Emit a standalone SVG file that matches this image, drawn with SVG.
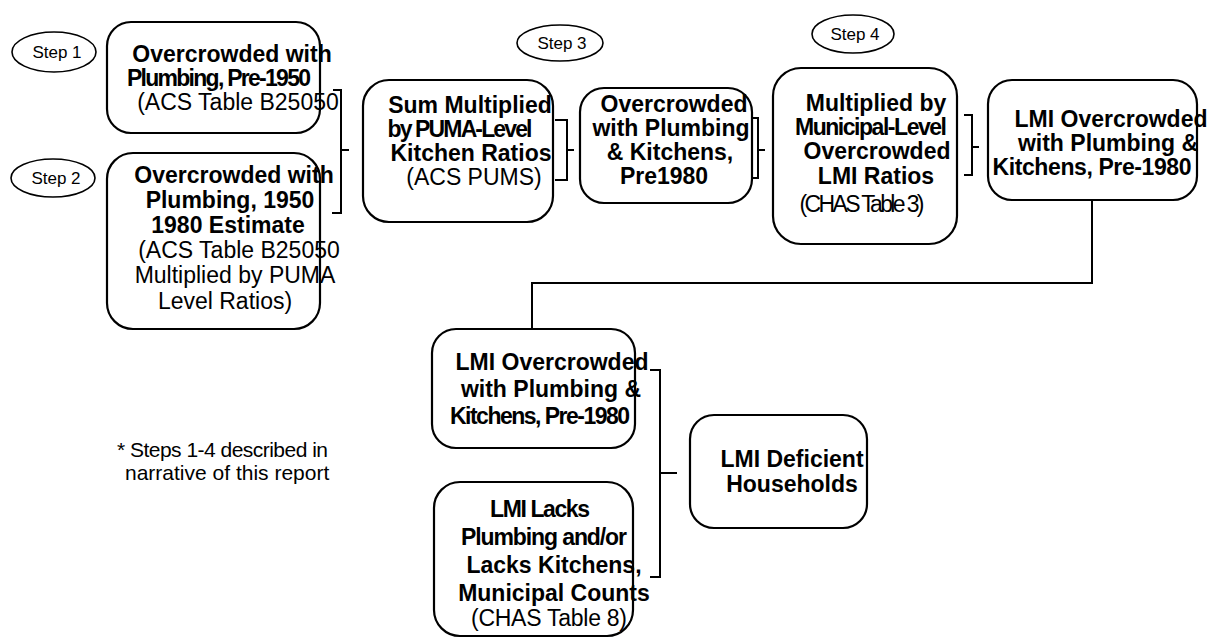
<svg xmlns="http://www.w3.org/2000/svg" width="1220" height="640" viewBox="0 0 1220 640">
<style>
.box{fill:#fff;stroke:#000;stroke-width:2.2}
.oval{fill:#fff;stroke:#000;stroke-width:1.6}
.ln{fill:none;stroke:#000;stroke-width:2}
text{font-family:"Liberation Sans",Arial,sans-serif;fill:#000;text-anchor:middle}
.b{font-weight:bold;font-size:23px}
.r{font-size:23px}
.s{font-size:17px}
.f{font-size:21px;text-anchor:start}
</style>
<rect width="1220" height="640" fill="#fff"/>
<g id="connectors">
<path class="ln" d="M333,90 H341 V213 H332 M341,150 H349"/>
<path class="ln" d="M555,120 H567 V180 H555 M567,150 H574"/>
<path class="ln" d="M750,118 H758 V178 H750 M758,150 H765"/>
<path class="ln" d="M964,115 H972 V175 H964 M972,147 H979"/>
<path class="ln" d="M1092,200 V283 H532 V329"/>
<path class="ln" d="M650,370 H660 V577 H650 M660,473 H677"/>
</g>
<g id="step1"><ellipse class="oval" cx="54" cy="52" rx="42" ry="20"/><text class="s" x="57" y="58">Step 1</text></g>
<g id="step2"><ellipse class="oval" cx="53" cy="178" rx="42" ry="19"/><text class="s" x="56" y="184">Step 2</text></g>
<g id="step3"><ellipse class="oval" cx="560" cy="43" rx="43" ry="18"/><text class="s" x="562" y="49">Step 3</text></g>
<g id="step4"><ellipse class="oval" cx="853" cy="34" rx="41" ry="19"/><text class="s" x="855" y="40">Step 4</text></g>
<g id="box1">
<rect class="box" x="107" y="22" width="213" height="111" rx="24"/>
<text class="b" x="232" y="62">Overcrowded with</text>
<text class="b" x="219" y="86" textLength="184">Plumbing, Pre-1950</text>
<text class="r" x="238" y="110">(ACS Table B25050</text>
</g>
<g id="box2">
<rect class="box" x="107" y="153" width="213" height="176" rx="26"/>
<text class="b" x="234" y="183">Overcrowded with</text>
<text class="b" x="230" y="208">Plumbing, 1950</text>
<text class="b" x="228" y="233">1980 Estimate</text>
<text class="r" x="239" y="258">(ACS Table B25050</text>
<text class="r" x="235" y="283">Multiplied by PUMA</text>
<text class="r" x="225" y="309">Level Ratios)</text>
</g>
<g id="box3">
<rect class="box" x="363" y="80" width="190" height="142" rx="26"/>
<text class="b" x="470" y="113">Sum Multiplied</text>
<text class="b" x="460" y="137" textLength="145">by PUMA-Level</text>
<text class="b" x="471" y="161">Kitchen Ratios</text>
<text class="r" x="474" y="185">(ACS PUMS)</text>
</g>
<g id="box4">
<rect class="box" x="580" y="88" width="172" height="115" rx="24"/>
<text class="b" x="674" y="112">Overcrowded</text>
<text class="b" x="671" y="136">with Plumbing</text>
<text class="b" x="670" y="160">&amp; Kitchens,</text>
<text class="b" x="664" y="184">Pre1980</text>
</g>
<g id="box5">
<rect class="box" x="773" y="68" width="184" height="176" rx="28"/>
<text class="b" x="876" y="111">Multiplied by</text>
<text class="b" x="871" y="135" textLength="152">Municipal-Level</text>
<text class="b" x="877" y="159">Overcrowded</text>
<text class="b" x="876" y="184">LMI Ratios</text>
<text class="r" x="862" y="212" textLength="125">(CHAS Table 3)</text>
</g>
<g id="box6">
<rect class="box" x="988" y="80" width="209" height="120" rx="24"/>
<text class="b" x="1111" y="127">LMI Overcrowded</text>
<text class="b" x="1108" y="151">with Plumbing &amp;</text>
<text class="b" x="1092" y="175" textLength="199">Kitchens, Pre-1980</text>
</g>
<g id="box7">
<rect class="box" x="432" y="329" width="203" height="119" rx="24"/>
<text class="b" x="552" y="370">LMI Overcrowded</text>
<text class="b" x="551" y="397">with Plumbing &amp;</text>
<text class="b" x="540" y="424" textLength="180">Kitchens, Pre-1980</text>
</g>
<g id="box8">
<rect class="box" x="434" y="482" width="199" height="154" rx="26"/>
<text class="b" x="540" y="517" textLength="100">LMI Lacks</text>
<text class="b" x="544" y="545" textLength="166">Plumbing and/or</text>
<text class="b" x="554" y="573">Lacks Kitchens,</text>
<text class="b" x="554" y="601">Municipal Counts</text>
<text class="r" x="549" y="626" textLength="156">(CHAS Table 8)</text>
</g>
<g id="box9">
<rect class="box" x="690" y="415" width="177" height="113" rx="24"/>
<text class="b" x="792" y="467">LMI Deficient</text>
<text class="b" x="792" y="492">Households</text>
</g>
<g id="note">
<text class="f" x="117" y="457" textLength="211">* Steps 1-4 described in</text>
<text class="f" x="125" y="480">narrative of this report</text>
</g>
</svg>
